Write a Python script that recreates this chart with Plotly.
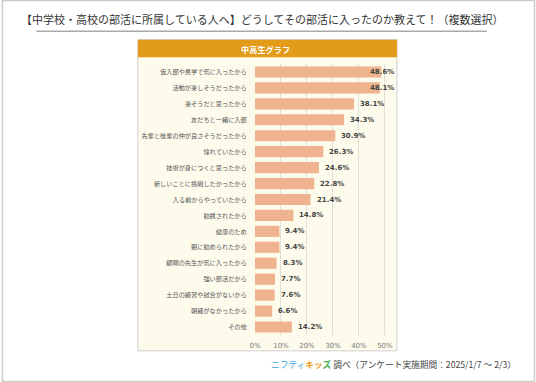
import plotly.graph_objects as go

categories = [
    "仮入部や見学で気に入ったから",
    "活動が楽しそうだったから",
    "楽そうだと思ったから",
    "友だちと一緒に入部",
    "先輩と後輩の仲が良さそうだったから",
    "憧れていたから",
    "技術が身につくと思ったから",
    "新しいことに挑戦したかったから",
    "入る前からやっていたから",
    "勧誘されたから",
    "健康のため",
    "親に勧められたから",
    "顧問の先生が気に入ったから",
    "強い部活だから",
    "土日の練習や試合がないから",
    "朝練がなかったから",
    "その他",
]
values = [48.6, 48.1, 38.1, 34.3, 30.9, 26.3, 24.6, 22.8, 21.4, 14.8, 9.4, 9.4, 8.3, 7.7, 7.6, 6.6, 14.2]
tick_vals = [0, 10, 20, 30, 40, 50]
tick_text = ["0%", "10%", "20%", "30%", "40%", "50%"]

title = "【中学校・高校の部活に所属している人へ】どうしてその部活に入ったのか教えて！（複数選択）"
header = "中高生グラフ"

FW, FH = 536, 382
L, R, T, B = 254.5, 394.0, 64.3, 334.7
PW, PH = R - L, B - T
XMAX = 53.5

def px(x):
    return (x - L) / PW

def py(y):
    return (B - y) / PH

JP = "Noto Sans CJK JP"
BAR = "#efb48f"

fig = go.Figure()
fig.add_trace(go.Bar(
    x=values, y=categories, orientation="h",
    marker=dict(color=BAR, line=dict(width=0)),
    width=0.7, hoverinfo="skip",
))

annotations = []
for c, v in zip(categories, values):
    label = f"{v:.1f}%"
    if v > 45:
        annotations.append(dict(x=XMAX, y=c, xref="x", yref="y", text=label, showarrow=False,
                                xanchor="right", xshift=2,
                                font=dict(family="DejaVu Sans", size=7, color="#444444", weight="bold")))
    else:
        annotations.append(dict(x=v, y=c, xref="x", yref="y", text=label, showarrow=False,
                                xanchor="left", xshift=4,
                                font=dict(family="DejaVu Sans", size=7, color="#444444", weight="bold")))

annotations.append(dict(x=px(262), y=py(19.5), xref="paper", yref="paper", text=title, showarrow=False,
                        xanchor="center", yanchor="middle",
                        font=dict(family=JP, size=11, color="#333333")))
annotations.append(dict(x=px(265), y=py(49), xref="paper", yref="paper", text="<b>" + header + "</b>",
                        showarrow=False, xanchor="center", yanchor="middle",
                        font=dict(family=JP, size=8.2, color="#ffffff")))
footer = ("<span style='color:#3aa3dc'>ニフティ</span>"
          "<b><span style='color:#f39a1a'>キッ</span><span style='color:#4caf50'>ズ</span></b>"
          " 調べ（アンケート実施期間：2025/1/7 ～ 2/3）")
annotations.append(dict(x=px(518), y=py(364), xref="paper", yref="paper", text=footer, showarrow=False,
                        xanchor="right", yanchor="middle",
                        font=dict(family=JP, size=8.7, color="#444444")))

shapes = [
    # outer frame
    dict(type="rect", xref="paper", yref="paper", x0=px(1), x1=px(FW - 1), y0=py(FH - 1), y1=py(1),
         line=dict(color="#cccccc", width=1.5), fillcolor="rgba(0,0,0,0)", layer="below"),
    # title underline
    dict(type="line", xref="paper", yref="paper", x0=px(35), x1=px(487), y0=py(31.7), y1=py(31.7),
         line=dict(color="#aaaaaa", width=1.5)),
    # panel
    dict(type="rect", xref="paper", yref="paper", x0=px(137), x1=px(397), y0=py(350.5), y1=py(40),
         line=dict(color="#cfcfcf", width=1), fillcolor="#fdfbec", layer="below"),
    # header
    dict(type="rect", xref="paper", yref="paper", x0=px(137), x1=px(397), y0=py(57.5), y1=py(40),
         line=dict(width=0), fillcolor="#e39b1a", layer="below"),
]

fig.update_layout(
    width=FW, height=FH,
    margin=dict(l=L, r=FW - R, t=T, b=FH - B, pad=0),
    paper_bgcolor="#ffffff", plot_bgcolor="rgba(0,0,0,0)",
    showlegend=False, bargap=0.3,
    annotations=annotations, shapes=shapes,
    xaxis=dict(range=[0, XMAX], tickvals=tick_vals, ticktext=tick_text,
               showgrid=True, gridcolor="#e0e0d8", gridwidth=1, zeroline=False,
               showline=False, ticks="outside", ticklen=4, tickcolor="rgba(0,0,0,0)",
               tickfont=dict(family="DejaVu Sans", size=7, color="#777777"), fixedrange=True),
    yaxis=dict(autorange="reversed", showgrid=False, zeroline=False, showline=False,
               ticks="outside", ticklen=6, tickcolor="rgba(0,0,0,0)",
               tickfont=dict(family=JP, size=6.2, color="#555555"), fixedrange=True),
)

fig.write_html("out.html", config={"staticPlot": True},
               post_script="document.body.style.margin='0';document.body.style.overflow='hidden';")
